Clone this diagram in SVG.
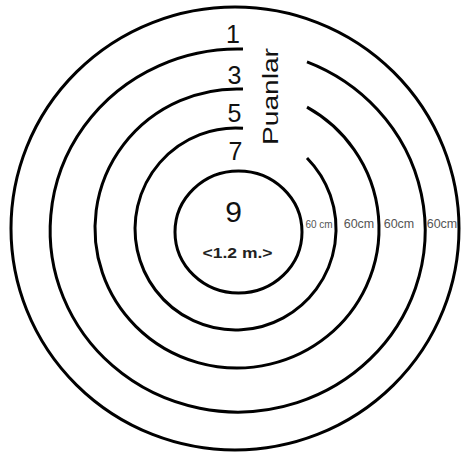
<svg xmlns="http://www.w3.org/2000/svg" width="462" height="456" viewBox="0 0 462 456">
<style>
.ring{fill:none;stroke:#000;stroke-width:3}
.num{font-family:"Liberation Sans",Arial,sans-serif;font-size:25px;fill:#111;text-anchor:middle}
.lbl{font-family:"Liberation Sans",Arial,sans-serif;fill:#555;text-anchor:middle}
</style>
<rect width="462" height="456" fill="#fff"/>
<g id="ring-1">
<ellipse class="ring" cx="235" cy="228.5" rx="224" ry="221.5"/>
<text class="num" x="233" y="43">1</text>
</g>
<g id="ring-3">
<path class="ring" d="M243,49.1 A187.5,181.5 0 1 0 307,61.9"/>
<text class="num" x="234.5" y="84">3</text>
</g>
<g id="ring-5">
<path class="ring" d="M243,89.1 A142,139.5 0 1 0 307,107.1"/>
<text class="num" x="234.5" y="122">5</text>
</g>
<g id="ring-7">
<path class="ring" d="M243,128.3 A100.5,101 0 1 0 307,158"/>
<text class="num" x="235.5" y="160">7</text>
</g>
<g id="ring-9">
<ellipse class="ring" cx="238.5" cy="232" rx="63.5" ry="61"/>
<text class="num" x="233.5" y="222" style="font-size:30px">9</text>
<text x="237.5" y="258" text-anchor="middle" font-family="'Liberation Sans',Arial,sans-serif" font-size="14" font-weight="bold" fill="#222" textLength="70" lengthAdjust="spacingAndGlyphs">&lt;1.2 m.&gt;</text>
</g>
<g id="title">
<text transform="translate(278,96.5) rotate(-90)" x="0" y="0" text-anchor="middle" font-family="'Liberation Sans',Arial,sans-serif" font-size="22" fill="#111" textLength="97" lengthAdjust="spacingAndGlyphs">Puanlar</text>
</g>
<g id="labels">
<text class="lbl" x="319" y="228" font-size="10">60 cm</text>
<text class="lbl" x="359" y="228" font-size="12.5">60cm</text>
<text class="lbl" x="399" y="228" font-size="12.5">60cm</text>
<text class="lbl" x="442" y="228" font-size="12.5">60cm</text>
</g>
</svg>
